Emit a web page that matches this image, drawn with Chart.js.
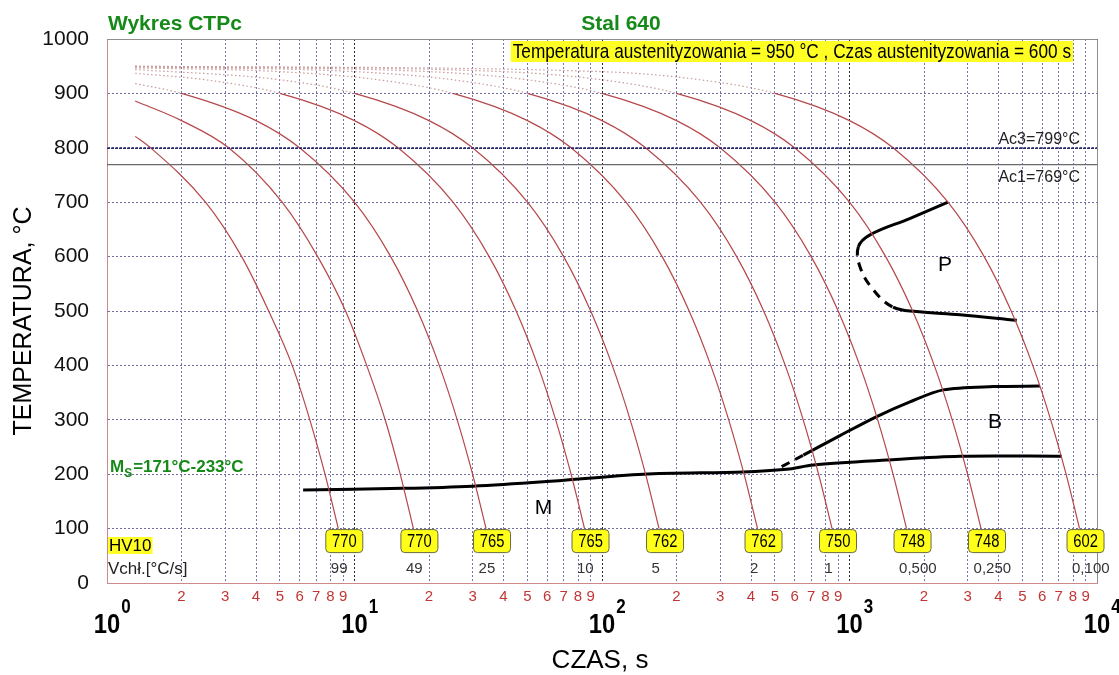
<!DOCTYPE html>
<html>
<head>
<meta charset="utf-8">
<script src="https://cdn.jsdelivr.net/npm/chart.js@4.4.1/dist/chart.umd.min.js"></script>
<style>
html, body { margin: 0; padding: 0; background: #fff; }
#wrap { width: 1119px; height: 675px; }
</style>
</head>
<body>
<div id="wrap"><canvas id="ctp" width="1119" height="675"></canvas></div>
<script>
// cooling curves: [time s, temperature C]
const c99 = [[1.3, 821], [1.5, 800], [2.5, 700], [3.5, 600], [4.5, 500], [5.6, 400], [6.6, 300], [7.6, 200], [8.6, 100]];
const c49 = [[1.3, 886], [2.0, 850], [3.1, 800], [5.1, 700], [7.1, 600], [9.2, 500], [11.2, 400], [13.3, 300], [15.3, 200], [17.3, 100]];
const c25 = [[1.3, 918], [2.0, 900], [4.0, 850], [6.0, 800], [10, 700], [14, 600], [18, 500], [22, 400], [26, 300], [30, 200], [34, 100]];
const c10 = [[1.3, 937], [2.5, 925], [5, 900], [10, 850], [15, 800], [25, 700], [35, 600], [45, 500], [55, 400], [65, 300], [75, 200], [85, 100]];
const c5 = [[1.3, 944], [5, 925], [10, 900], [20, 850], [30, 800], [50, 700], [70, 600], [90, 500], [110, 400], [130, 300], [150, 200], [170, 100]];
const c2 = [[1.3, 947], [5, 940], [12.5, 925], [25, 900], [50, 850], [75, 800], [125, 700], [175, 600], [225, 500], [275, 400], [325, 300], [375, 200], [425, 100]];
const c1 = [[1.3, 949], [10, 940], [25, 925], [50, 900], [100, 850], [150, 800], [250, 700], [350, 600], [450, 500], [550, 400], [650, 300], [750, 200], [850, 100]];
const c05 = [[1.3, 949], [20, 940], [50, 925], [100, 900], [200, 850], [300, 800], [500, 700], [700, 600], [900, 500], [1100, 400], [1300, 300], [1500, 200], [1700, 100]];
const c025 = [[1.3, 950], [40, 940], [100, 925], [200, 900], [400, 850], [600, 800], [1000, 700], [1400, 600], [1800, 500], [2200, 400], [2600, 300], [3000, 200], [3400, 100]];
const c01 = [[1.3, 950], [100, 940], [250, 925], [500, 900], [1000, 850], [1500, 800], [2500, 700], [3500, 600], [4500, 500], [5500, 400], [6500, 300], [7500, 200], [8500, 100]];

const coolingCurves = [c99, c49, c25, c10, c5, c2, c1, c05, c025, c01];
const coolingRates = ['99', '49', '25', '10', '5', '2', '1', '0,500', '0,250', '0,100'];
const hardness = ['770', '770', '765', '765', '762', '762', '750', '748', '748', '602'];

// transformation lines
const msLine = [[6.2, 171], [15.7, 174], [30, 178], [58, 186], [147, 200], [372, 204], [557, 209], [714, 217], [1413, 226], [2795, 233], [7200, 233]];
const bStart = [[532, 214], [651, 235], [915, 271], [1288, 306], [1755, 333], [2393, 355], [3811, 361], [5888, 362]];
const pStart = [[2500, 700], [1750, 670], [1210, 640], [1086, 618], [1103, 581], [1248, 539], [1500, 507], [1868, 499], [2794, 493], [4740, 483]];

const ac3 = 799;
const ac1 = 769;
const xMin = 1, xMax = 10000;
const yTicks = [0, 100, 200, 300, 400, 500, 600, 700, 800, 900, 1000];

const pts = arr => arr.map(p => ({x: p[0], y: p[1]}));
const isDecade = v => /^10*$/.test(String(Math.round(v)));

const red = '#b5474a';
const pale = '#c99a9a';

// condensed text: Arial squeezed horizontally
function narrow(ctx, text, x, y, font, align, sx) {
  sx = sx || 0.82;
  ctx.save();
  ctx.font = font;
  ctx.translate(x, y);
  ctx.scale(sx, 1);
  ctx.textAlign = align;
  ctx.fillText(text, 0, 0);
  const w = ctx.measureText(text).width * sx;
  ctx.restore();
  return w;
}

const datasets = [];
datasets.push({data: pts([[xMin, ac3], [xMax, ac3]]), borderColor: '#2d2d6e', borderWidth: 1.5, borderDash: [3, 1]});
datasets.push({data: pts([[xMin, ac1], [xMax, ac1]]), borderColor: '#6a6a6a', borderWidth: 1.2});
coolingCurves.forEach(c => {
  datasets.push({
    data: pts(c),
    borderColor: red,
    borderWidth: 1.2,
    cubicInterpolationMode: 'monotone',
    segment: {
      borderColor: s => s.p0.parsed.y > 900.5 ? pale : red,
      borderDash: s => s.p0.parsed.y > 900.5 ? [1.5, 2.5] : undefined
    }
  });
});
datasets.push({data: pts(msLine), borderColor: '#000', borderWidth: 3, tension: 0.3});
datasets.push({
  data: pts(bStart), borderColor: '#000', borderWidth: 3, tension: 0.3,
  segment: {borderDash: s => s.p0DataIndex === 0 ? [9, 6] : undefined}
});
datasets.push({
  data: pts(pStart), borderColor: '#000', borderWidth: 3, tension: 0.4,
  segment: {borderDash: s => (s.p0DataIndex >= 3 && s.p0DataIndex <= 5) ? [9, 7] : undefined}
});

const decor = {
  id: 'decor',
  afterDraw(chart) {
    const {ctx, chartArea: a, scales: {x, y}} = chart;
    ctx.save();

    // frame top / right
    ctx.strokeStyle = '#8e8e8e';
    ctx.lineWidth = 1;
    ctx.setLineDash([]);
    ctx.beginPath();
    ctx.moveTo(a.left, a.top + 0.5);
    ctx.lineTo(a.right + 0.5, a.top + 0.5);
    ctx.lineTo(a.right + 0.5, a.bottom);
    ctx.stroke();

    // titles
    ctx.fillStyle = '#158a18';
    ctx.font = 'bold 21px Arial';
    ctx.textBaseline = 'alphabetic';
    ctx.textAlign = 'left';
    ctx.fillText('Wykres CTPc', 108, 30);
    ctx.textAlign = 'center';
    ctx.fillText('Stal 640', 621, 30);

    // austenitizing banner
    const banner = 'Temperatura austenityzowania = 950 \u00b0C , Czas austenityzowania = 600 s';
    ctx.font = '21px Arial';
    const bw = ctx.measureText(banner).width * 0.82;
    const bRight = a.right - 24;
    ctx.fillStyle = '#ffff24';
    ctx.fillRect(bRight - bw - 4, a.top + 2, bw + 4, 21);
    ctx.fillStyle = '#000';
    narrow(ctx, banner, bRight - 2, a.top + 19, '21px Arial', 'right');

    // Ac lines labels
    ctx.font = '16px Arial';
    ctx.fillStyle = '#222';
    ctx.textAlign = 'right';
    ctx.fillText('Ac3=799\u00b0C', a.right - 17, y.getPixelForValue(ac3) - 4);
    ctx.fillText('Ac1=769\u00b0C', a.right - 17, y.getPixelForValue(ac1) + 17);

    // Ms label
    ctx.textAlign = 'left';
    ctx.fillStyle = '#158a18';
    let mx = a.left + 3;
    const my = y.getPixelForValue(204);
    ctx.font = 'bold 17px Arial';
    ctx.fillText('M', mx, my);
    mx += ctx.measureText('M').width;
    ctx.font = 'bold 12px Arial';
    ctx.fillText('S', mx, my + 5);
    mx += ctx.measureText('S').width + 1;
    ctx.font = 'bold 17px Arial';
    ctx.fillText('=171\u00b0C-233\u00b0C', mx, my);

    // HV10 / cooling rate row headers
    ctx.font = '17px Arial';
    const hw = ctx.measureText('HV10').width;
    ctx.fillStyle = '#ffff24';
    ctx.fillRect(a.left + 1, a.bottom - 46, hw + 2, 17);
    ctx.fillStyle = '#000';
    ctx.fillText('HV10', a.left + 2, a.bottom - 32);
    ctx.fillStyle = '#222';
    ctx.fillText('Vch\u0142.[\u00b0C/s]', a.left + 1, a.bottom - 9);

    // hardness boxes + cooling rates
    const top = y.getPixelForValue(100) + 1;
    coolingCurves.forEach((c, i) => {
      const cx = x.getPixelForValue(c[c.length - 1][0]) + 6;
      ctx.beginPath();
      ctx.roundRect(cx - 18.5, top, 37, 23, 4);
      ctx.fillStyle = '#ffff1a';
      ctx.fill();
      ctx.strokeStyle = '#6a6a40';
      ctx.lineWidth = 1;
      ctx.stroke();
      ctx.fillStyle = '#000';
      narrow(ctx, hardness[i], cx, top + 17, '18px Arial', 'center');
      ctx.font = '15px Arial';
      ctx.textAlign = 'left';
      ctx.fillStyle = '#333';
      ctx.fillText(coolingRates[i], cx - 13.5, a.bottom - 10);
    });

    // phase region labels
    ctx.fillStyle = '#000';
    ctx.font = '21px Arial';
    ctx.textAlign = 'center';
    ctx.textBaseline = 'middle';
    ctx.fillText('P', x.getPixelForValue(2430), y.getPixelForValue(585));
    ctx.fillText('B', x.getPixelForValue(3870), y.getPixelForValue(296));
    ctx.fillText('M', x.getPixelForValue(58), y.getPixelForValue(138));

    // decade labels 10^n
    ctx.textBaseline = 'alphabetic';
    for (let e = 0; e <= 4; e++) {
      const px = x.getPixelForValue(Math.pow(10, e));
      const w10 = narrow(ctx, '10', px, 633, 'bold 28px Arial', 'center', 0.85);
      narrow(ctx, String(e), px + w10 / 2 + 1, 613, 'bold 20px Arial', 'left', 0.85);
    }

    // axis titles
    ctx.font = '26px Arial';
    ctx.textAlign = 'center';
    ctx.textBaseline = 'middle';
    ctx.fillText('CZAS, s', 600, 661);
    ctx.translate(24, 321);
    ctx.rotate(-Math.PI / 2);
    ctx.font = '25px Arial';
    ctx.fillText('TEMPERATURA, \u00b0C', 0, 0);
    ctx.restore();
  }
};

new Chart(document.getElementById('ctp'), {
  type: 'scatter',
  data: {datasets: datasets.map(d => Object.assign({showLine: true, pointRadius: 0, pointHoverRadius: 0, fill: false}, d))},
  options: {
    responsive: false,
    devicePixelRatio: 1,
    animation: false,
    events: [],
    layout: {padding: {top: 39, right: 22, left: 0, bottom: 0}},
    plugins: {legend: {display: false}, tooltip: {enabled: false}},
    scales: {
      x: {
        type: 'logarithmic',
        min: xMin,
        max: xMax,
        afterBuildTicks: s => {
          const t = [];
          for (let e = 0; e < 4; e++) for (let m = 1; m <= 9; m++) t.push({value: m * Math.pow(10, e)});
          t.push({value: xMax});
          s.ticks = t;
        },
        afterFit: s => { s.height = 92; },
        ticks: {
          autoSkip: false,
          maxRotation: 0,
          padding: 5,
          color: '#c23535',
          font: {family: 'Arial', size: 15},
          callback: v => isDecade(v) ? '' : String(Math.round(v)).charAt(0)
        },
        grid: {
          drawTicks: false,
          color: c => isDecade(c.tick.value) ? '#2a2a2a' : '#7676a8',
          lineWidth: 1
        },
        border: {color: '#cc8a8a', width: 1, dash: [2, 2]}
      },
      y: {
        min: 0,
        max: 1000,
        afterBuildTicks: s => { s.ticks = yTicks.map(v => ({value: v})); },
        afterFit: s => { s.width = 107; },
        ticks: {
          padding: 18,
          color: '#111',
          font: {family: 'Arial', size: 21},
          callback: v => String(v)
        },
        grid: {drawTicks: false, color: '#6e6ea2', lineWidth: 1},
        border: {color: '#cc8a8a', width: 1, dash: [2, 2]}
      }
    }
  },
  plugins: [decor]
});
</script>
</body>
</html>
